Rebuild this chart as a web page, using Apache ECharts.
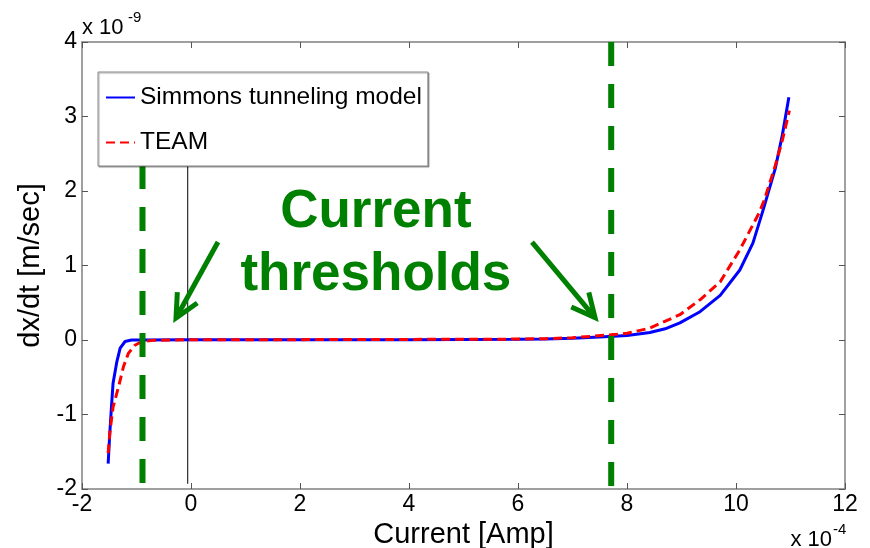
<!DOCTYPE html>
<html><head><meta charset="utf-8">
<script src="https://cdn.jsdelivr.net/npm/echarts@6/dist/echarts.min.js"></script>
<style>html,body{margin:0;padding:0;background:#fff}#c{width:870px;height:548px}</style>
</head><body><div id="c"></div>
<script>
// x values in units of 1e-4 Amp, y values in units of 1e-9 m/sec
const simmonsX = [-1.52, -1.49, -1.46, -1.43, -1.36, -1.30, -1.21, -1.09, -0.9, 0, 2, 4, 6, 6.5, 7, 7.5, 8, 8.42, 8.7, 8.97, 9.34, 9.71, 10.07, 10.31, 10.5, 10.72, 10.85, 10.97];
const simmonsY = [-1.66, -1.25, -0.9, -0.58, -0.29, -0.11, -0.02, 0, 0, 0.005, 0.005, 0.005, 0.01, 0.015, 0.025, 0.04, 0.06, 0.1, 0.15, 0.23, 0.38, 0.6, 0.94, 1.3, 1.75, 2.3, 2.75, 3.26];
const teamX = [-1.52, -1.49, -1.43, -1.33, -1.24, -1.15, -1.03, -0.9, -0.7, 0, 2, 4, 6, 6.5, 7, 7.7, 8, 8.42, 8.97, 9.34, 9.71, 10.07, 10.42, 10.52, 10.72, 10.85, 10.98];
const teamY = [-1.52, -1.25, -0.9, -0.63, -0.36, -0.18, -0.07, -0.02, -0.005, 0.005, 0.005, 0.008, 0.012, 0.018, 0.03, 0.07, 0.09, 0.16, 0.34, 0.54, 0.78, 1.21, 1.7, 1.88, 2.34, 2.68, 3.08];
const thresholdX = [-0.89, 7.71];
const thresholdTop = [2.35, 4];     // left line is hidden above the legend box
const markerX = -0.06;
const markerSpan = [2.35, -1.93];
const xTickLabels = ['-2', '0', '2', '4', '6', '8', '10', '12'];
const yTickLabels = ['-2', '-1', '0', '1', '2', '3', '4'];
// annotation arrows: [start, tip] in data units
const arrows = [[[0.495, 1.315], [-0.275, 0.295]], [[6.257, 1.315], [7.413, 0.30]]];
const annotText = ['Current', 'thresholds'];

const FONT = '"Liberation Sans", Arial, Helvetica, sans-serif';
const GREEN = '#008000';
const pairs = (xs, ys) => xs.map((x, i) => [x, ys[i]]);

const chart = echarts.init(document.getElementById('c'), null, {renderer: 'canvas'});
const axisCommon = {
  type: 'value',
  axisLine: {show: true, onZero: false, lineStyle: {color: '#808080', width: 1.5}},
  axisTick: {show: true, inside: true, length: 6, lineStyle: {color: '#555', width: 1}},
  splitLine: {show: false}
};
const xmin = Number(xTickLabels[0]), xmax = Number(xTickLabels[xTickLabels.length - 1]);
const ymin = Number(yTickLabels[0]), ymax = Number(yTickLabels[yTickLabels.length - 1]);

const option = {
  animation: false,
  backgroundColor: '#fff',
  grid: {left: 82, right: 25, top: 42, bottom: 59, containLabel: false, outerBoundsMode: 'none'},
  xAxis: [
    Object.assign({}, axisCommon, {
      min: xmin, max: xmax, interval: 2, position: 'bottom',
      axisLabel: {color: '#000', fontSize: 23, fontFamily: FONT, margin: 4},
      name: 'Current [Amp]', nameLocation: 'middle', nameGap: 29,
      nameTextStyle: {color: '#000', fontSize: 29, fontFamily: FONT}
    }),
    Object.assign({}, axisCommon, {
      min: xmin, max: xmax, interval: 2, position: 'top', axisLabel: {show: false}
    })
  ],
  yAxis: [
    Object.assign({}, axisCommon, {
      min: ymin, max: ymax, interval: 1, position: 'left',
      axisLabel: {color: '#000', fontSize: 23, fontFamily: FONT, margin: 5},
      name: 'dx/dt [m/sec]', nameLocation: 'middle', nameGap: 36,
      nameTextStyle: {color: '#000', fontSize: 29, fontFamily: FONT}
    }),
    Object.assign({}, axisCommon, {
      min: ymin, max: ymax, interval: 1, position: 'right', axisLabel: {show: false}
    })
  ],
  legend: {
    data: ['Simmons tunneling model', 'TEAM'],
    orient: 'vertical', left: 98, top: 72,
    padding: [13, 6, 11, 7], itemGap: 20, itemWidth: 29, itemHeight: 14,
    backgroundColor: '#fff', borderColor: '#888', borderWidth: 1,
    shadowColor: 'rgba(0,0,0,0.35)', shadowOffsetX: 1, shadowOffsetY: 1, shadowBlur: 1,
    itemStyle: {opacity: 0},
    textStyle: {color: '#000', fontSize: 24.5, fontFamily: FONT}
  },
  series: [
    {name: 'marker', type: 'line', data: [[markerX, markerSpan[0]], [markerX, markerSpan[1]]], symbol: 'none',
     lineStyle: {color: '#000', width: 1}, silent: true},
    {name: 'Simmons tunneling model', type: 'line', data: pairs(simmonsX, simmonsY), symbol: 'none', showSymbol: false,
     lineStyle: {color: '#0000ff', width: 3}, itemStyle: {color: '#0000ff'}},
    {name: 'TEAM', type: 'line', data: pairs(teamX, teamY), symbol: 'none', showSymbol: false,
     lineStyle: {color: '#ff0000', width: 3, type: [9, 5]}, itemStyle: {color: '#ff0000'}},
    {name: 'thrLow', type: 'line', data: [[thresholdX[0], thresholdTop[0]], [thresholdX[0], ymin]], symbol: 'none',
     lineStyle: {color: GREEN, width: 6, type: [24, 18]}, silent: true},
    {name: 'thrHigh', type: 'line', data: [[thresholdX[1], thresholdTop[1]], [thresholdX[1], ymin]], symbol: 'none',
     lineStyle: {color: GREEN, width: 6, type: [24, 18]}, silent: true}
  ]
};
chart.setOption(option);

// annotations (positioned through the chart's own coordinate conversion)
const px = p => chart.convertToPixel({gridIndex: 0}, p);
const g = [];
arrows.forEach(([s, t]) => {
  const p0 = px(s), p1 = px(t);
  const dx = p0[0] - p1[0], dy = p0[1] - p1[1];
  const len = Math.hypot(dx, dy), ux = dx / len, uy = dy / len;
  const a = 26 * Math.PI / 180, L = 26;
  const rot = (ang) => [p1[0] + L * (ux * Math.cos(ang) - uy * Math.sin(ang)), p1[1] + L * (ux * Math.sin(ang) + uy * Math.cos(ang))];
  g.push({type: 'polyline', shape: {points: [p0, p1]}, style: {stroke: GREEN, lineWidth: 5, fill: null}, z: 100});
  g.push({type: 'polyline', shape: {points: [rot(a), p1, rot(-a)]}, style: {stroke: GREEN, lineWidth: 5, fill: null, lineJoin: 'miter'}, z: 100});
});
const c1 = px([3.392, 1.707]);   // centre of first annotation line
const c2 = px([3.392, 0.861]);   // centre of second annotation line
g.push({type: 'text', x: c1[0], y: c1[1], z: 100, style: {text: annotText[0], fill: GREEN, font: 'bold 53px ' + FONT, align: 'center', verticalAlign: 'middle'}});
g.push({type: 'text', x: c2[0], y: c2[1], z: 100, style: {text: annotText[1], fill: GREEN, font: 'bold 53px ' + FONT, align: 'center', verticalAlign: 'middle'}});
// axis multipliers
const tl = px([xmin, ymax]), br = px([xmax, ymin]);
g.push({type: 'text', x: tl[0], y: tl[1] - 3, z: 100, style: {text: 'x 10', fill: '#000', font: '22px ' + FONT, align: 'left', verticalAlign: 'bottom'}});
g.push({type: 'text', x: tl[0] + 46, y: tl[1] - 17, z: 100, style: {text: '-9', fill: '#000', font: '15px ' + FONT, align: 'left', verticalAlign: 'bottom'}});
g.push({type: 'text', x: br[0] - 13, y: br[1] + 62, z: 100, style: {text: 'x 10', fill: '#000', font: '22px ' + FONT, align: 'right', verticalAlign: 'bottom'}});
g.push({type: 'text', x: br[0] - 12, y: br[1] + 48, z: 100, style: {text: '-4', fill: '#000', font: '15px ' + FONT, align: 'left', verticalAlign: 'bottom'}});
chart.setOption({graphic: g});
</script></body></html>
